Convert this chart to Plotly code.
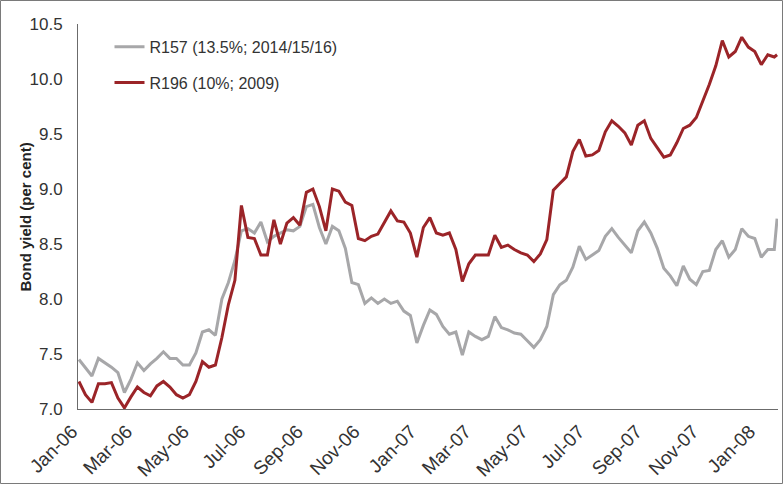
import pandas as pd
import plotly.graph_objects as go

# weekly observation dates (Mondays) plus final observation
dates = list(pd.date_range("2006-01-02", periods=108, freq="7D")) + [pd.Timestamp("2008-01-24")]

r157 = [7.45, 7.37, 7.30, 7.46, 7.42, 7.38, 7.33, 7.15, 7.27, 7.42,
        7.35, 7.41, 7.46, 7.52, 7.46, 7.46, 7.40, 7.40, 7.51, 7.70,
        7.72, 7.67, 8.00, 8.15, 8.35, 8.62, 8.64, 8.60, 8.70, 8.52,
        8.57, 8.60, 8.63, 8.62, 8.66, 8.84, 8.86, 8.65, 8.50, 8.66,
        8.62, 8.46, 8.15, 8.13, 7.96, 8.01, 7.96, 8.00, 7.96, 7.98,
        7.89, 7.85, 7.60, 7.76, 7.90, 7.86, 7.75, 7.68, 7.70, 7.49,
        7.70, 7.66, 7.63, 7.66, 7.84, 7.74, 7.72, 7.69, 7.68, 7.62,
        7.56, 7.63, 7.75, 8.04, 8.13, 8.17, 8.29, 8.48, 8.36, 8.40,
        8.44, 8.57, 8.64, 8.56, 8.49, 8.42, 8.62, 8.70, 8.60, 8.46,
        8.28, 8.21, 8.12, 8.30, 8.18, 8.13, 8.25, 8.26, 8.45, 8.53,
        8.38, 8.45, 8.64, 8.57, 8.55, 8.38, 8.45, 8.45, 8.73]

r196 = [7.25, 7.13, 7.06, 7.23, 7.23, 7.24, 7.10, 7.01, 7.11, 7.20,
        7.15, 7.12, 7.21, 7.25, 7.20, 7.13, 7.10, 7.13, 7.25, 7.43,
        7.38, 7.40, 7.65, 7.95, 8.17, 8.85, 8.56, 8.55, 8.40, 8.40,
        8.72, 8.50, 8.69, 8.74, 8.67, 8.97, 9.00, 8.84, 8.62, 9.00,
        8.98, 8.88, 8.85, 8.55, 8.53, 8.57, 8.59, 8.70, 8.80, 8.71,
        8.70, 8.60, 8.38, 8.65, 8.74, 8.60, 8.58, 8.60, 8.45, 8.16,
        8.32, 8.40, 8.40, 8.40, 8.58, 8.47, 8.49, 8.45, 8.42, 8.40,
        8.34, 8.41, 8.54, 8.99, 9.05, 9.11, 9.34, 9.45, 9.30, 9.31,
        9.35, 9.52, 9.62, 9.57, 9.51, 9.40, 9.58, 9.62, 9.46, 9.38,
        9.29, 9.31, 9.42, 9.55, 9.58, 9.65, 9.80, 9.95, 10.12, 10.35,
        10.20, 10.25, 10.38, 10.29, 10.25, 10.13, 10.22, 10.20, 10.22]

names = ["R157 (13.5%; 2014/15/16)", "R196 (10%; 2009)"]
colors = ["#a7a7a9", "#9b2428"]
y_title = "Bond yield (per cent)"

FONT = "Liberation Sans, Arial, sans-serif"

fig = go.Figure()
for i, (name, ys, c) in enumerate(zip(names, [r157, r196], colors)):
    fig.add_trace(go.Scatter(x=dates, y=ys, mode="lines", name=name,
                             legendgroup=str(i),
                             line=dict(color=c, width=3)))

W, H = 783, 484
ml, mr, mt, mb = 78, 5, 24, 75
pw, ph = W - ml - mr, H - mt - mb

fig.update_layout(
    width=W, height=H,
    margin=dict(l=ml, r=mr, t=mt, b=mb, autoexpand=False),
    paper_bgcolor="white", plot_bgcolor="white",
    font=dict(family=FONT, size=16, color="#333333"),
    showlegend=True,
    legend=dict(x=0.045, y=0.985, xanchor="left", yanchor="top",
                bgcolor="rgba(0,0,0,0)", font=dict(family=FONT, size=16, color="#333333"),
                tracegroupgap=12, itemwidth=30),
    xaxis=dict(type="date", range=["2006-01-01", "2008-01-25"],
               tick0="2006-01-01", dtick="M2", tickformat="%b-%y",
               tickangle=-45, showgrid=False, zeroline=False, automargin=False,
               showline=True, linecolor="#6b6b6b", linewidth=1,
               ticks="outside", ticklen=3, tickcolor="rgba(0,0,0,0)",
               ticklabelshift=-6, tickfont=dict(size=19)),
    yaxis=dict(range=[7.0, 10.5], dtick=0.5, tickformat=".1f",
               showgrid=False, zeroline=False, automargin=False,
               showline=True, linecolor="#6b6b6b", linewidth=1,
               ticks="outside", ticklen=11, tickcolor="rgba(0,0,0,0)",
               tickfont=dict(size=17)),
    annotations=[dict(text="<b>" + y_title + "</b>", textangle=-90,
                      xref="paper", yref="paper", x=-(ml - 25) / pw, y=0.5,
                      xanchor="center", yanchor="middle", showarrow=False,
                      font=dict(family=FONT, size=15, color="#222222"))],
    shapes=[dict(type="rect", xref="paper", yref="paper",
                 x0=-(ml - 0.5) / pw, x1=1 + (mr - 0.5) / pw,
                 y0=-(mb - 0.5) / ph, y1=1 + (mt - 0.5) / ph,
                 line=dict(color="#7a7a7a", width=1), layer="below")],
)

fig.write_html("out.html", config={"displayModeBar": False},
               post_script="document.body.style.margin='0';document.body.style.overflow='hidden';")
